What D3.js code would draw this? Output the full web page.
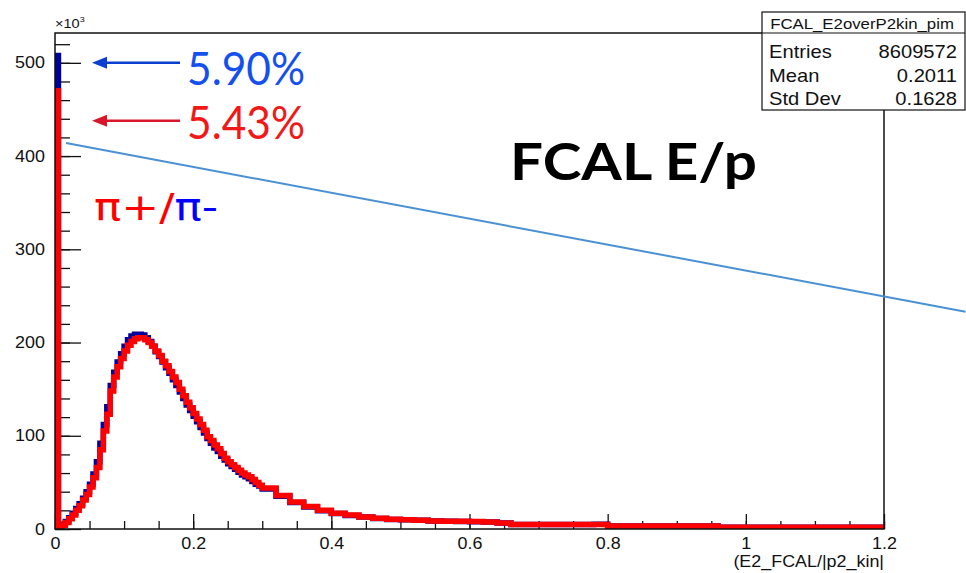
<!DOCTYPE html>
<html>
<head>
<meta charset="utf-8">
<script src="https://cdn.jsdelivr.net/npm/d3@7"></script>
<style>
  body { margin: 0; background: #fff; }
  svg { display: block; }
</style>
</head>
<body>
<div id="chart"></div>
<script>
// counts in units of 10^3, bins of 0.005 up to 0.3 then 0.02 up to 1.2
const lowBinWidth = 0.005;
const tailStart = 0.3;
const tailBinWidth = 0.02;

const piPlusLow = [470, 2, 4, 7, 11, 15, 20, 25, 31, 37,
                   45, 55, 66, 85, 105, 123, 148, 163, 174, 183,
                   191, 197, 201, 204, 205, 205, 203, 200, 196, 191,
                   186, 180, 175, 169, 163, 157, 150, 143, 136, 130,
                   124, 118, 112, 106, 99, 95, 90, 86, 81, 76,
                   72, 69, 66, 63, 60, 58, 56, 53, 50, 47];
const piMinusLow = [508, 3, 5, 8, 12, 17, 22, 27, 33, 40,
                    48, 59, 72, 92, 112, 131, 154, 168, 179, 188,
                    196, 203, 207, 209, 209, 208, 205, 201, 196, 190,
                    185, 179, 173, 167, 160, 154, 147, 140, 133, 127,
                    121, 115, 109, 103, 97, 92, 87, 83, 78, 74,
                    70, 67, 64, 61, 58, 56, 54, 51, 48, 46];
const piPlusTail = [44, 36, 29, 24, 20, 17, 15, 13, 11.5, 10.5,
                    10, 9.5, 8.6, 8.4, 8.2, 8, 7.5, 6.5, 4.8, 4.8,
                    4.8, 4.8, 4.8, 4.8, 4.8, 3.2, 3.2, 3.2, 3.2, 3.2,
                    3.2, 3.2, 3.2, 2, 2, 2, 2, 2, 2, 2,
                    2, 2, 2, 2, 2];
const piMinusTail = [43, 35, 28.5, 23.5, 19.5, 16.5, 14.5, 12.8, 11.3, 10.3,
                     9.8, 9.3, 8.5, 8.3, 8.1, 7.9, 7.4, 6.4, 4.7, 4.7,
                     4.7, 4.7, 4.7, 4.7, 5.2, 3.1, 3.1, 3.1, 3.1, 3.1,
                     3.1, 3.1, 3.1, 1.9, 1.9, 1.9, 1.9, 1.9, 1.9, 1.9,
                     1.9, 1.9, 1.9, 1.9, 1.9];

const yTicks = [0, 100, 200, 300, 400, 500];
const xTicks = [0, 0.2, 0.4, 0.6, 0.8, 1, 1.2];
const statsTitle = "FCAL_E2overP2kin_pim";
const statsRows = [["Entries", "8609572"], ["Mean", "0.2011"], ["Std Dev", "0.1628"]];
const xTitle = "(E2_FCAL/|p2_kin|";
// hand-drawn guide line, in data units
const guideLine = [[0.016, 414], [1.318, 233]];

const width = 966;
const height = 573;
const stretch = "scale(1.12,1)";

const xScale = d3.scaleLinear().domain([0, 1.2]).range([55, 884]);
const yScale = d3.scaleLinear().domain([0, 532]).range([529, 33]);

const svg = d3.select("#chart")
              .append("svg")
              .attr("width", width)
              .attr("height", height)
              .style("font-family", "'Liberation Sans', Arial, sans-serif");

svg.append("rect").attr("width", width).attr("height", height).attr("fill", "#fff");

svg.append("clipPath")
   .attr("id", "frame-clip")
   .append("rect")
   .attr("x", xScale(0))
   .attr("y", yScale(532))
   .attr("width", xScale(1.2) - xScale(0))
   .attr("height", yScale(0) - yScale(532));

const toBins = (low, tail) => [
  ...low.map((v, i) => ({ x0: i * lowBinWidth, x1: (i + 1) * lowBinWidth, v })),
  ...tail.map((v, i) => ({ x0: tailStart + i * tailBinWidth, x1: tailStart + (i + 1) * tailBinWidth, v }))
];

const stepPoints = (bins) => {
  const pts = [[0, 0]];
  bins.forEach(b => { pts.push([b.x0, b.v]); pts.push([b.x1, b.v]); });
  pts.push([1.2, 0]);
  return pts;
};

const line = d3.line().x(d => xScale(d[0])).y(d => yScale(d[1]));

// axes (ROOT style: ticks pointing into the frame)
const yMinor = d3.axisLeft(yScale).tickValues(d3.range(0, 521, 20)).tickSizeInner(-15).tickSizeOuter(0).tickFormat("");
const yMajor = d3.axisLeft(yScale).tickValues(yTicks).tickSizeInner(-26).tickSizeOuter(0).tickPadding(9);
const xMinor = d3.axisBottom(xScale).tickValues(d3.range(0, 1.2001, 0.05)).tickSizeInner(-8).tickSizeOuter(0).tickFormat("");
const xMajor = d3.axisBottom(xScale).tickValues(xTicks).tickSizeInner(-15).tickSizeOuter(0).tickPadding(9).tickFormat(d3.format("~g"));

[yMinor, yMajor].forEach(ax => {
  svg.append("g").attr("class", "axis").attr("transform", `translate(${xScale(0)},0)`).call(ax);
});
[xMinor, xMajor].forEach(ax => {
  svg.append("g").attr("class", "axis").attr("transform", `translate(0,${yScale(0)})`).call(ax);
});

svg.selectAll(".axis .domain").remove();
svg.selectAll(".axis line").attr("stroke", "#111").attr("stroke-width", 1.3);
svg.selectAll(".axis text")
   .attr("fill", "#111")
   .style("font-size", "16px")
   .style("font-family", "'Liberation Sans', Arial, sans-serif")
   .attr("transform", stretch);

// histograms
const hist = svg.append("g").attr("clip-path", "url(#frame-clip)");
hist.append("path")
    .attr("d", line(stepPoints(toBins(piMinusLow, piMinusTail))))
    .attr("fill", "none")
    .attr("stroke", "#00009c")
    .attr("stroke-width", 5.5);
hist.append("path")
    .attr("d", line(stepPoints(toBins(piPlusLow, piPlusTail))))
    .attr("fill", "none")
    .attr("stroke", "#ff0000")
    .attr("stroke-width", 5.5);

// frame
svg.append("rect")
   .attr("x", xScale(0))
   .attr("y", yScale(532))
   .attr("width", xScale(1.2) - xScale(0))
   .attr("height", yScale(0) - yScale(532))
   .attr("fill", "none")
   .attr("stroke", "#111")
   .attr("stroke-width", 1.5);

const rootText = (x, y, str, size, anchor) =>
  svg.append("text")
     .attr("transform", `translate(${x},${y}) ${stretch}`)
     .attr("text-anchor", anchor)
     .attr("fill", "#111")
     .style("font-size", size + "px")
     .text(str);

// exponent label
const expo = rootText(55, 28, "\u00d710", 13, "start");
expo.append("tspan").attr("dy", -6).style("font-size", "8px").text("3");

rootText(884, 567, xTitle, 16, "end");

// stats box
svg.append("rect")
   .attr("x", 762).attr("y", 12).attr("width", 203).attr("height", 98)
   .attr("fill", "#fff").attr("stroke", "#111").attr("stroke-width", 1.2);
svg.append("line")
   .attr("x1", 762).attr("x2", 965).attr("y1", 33).attr("y2", 33)
   .attr("stroke", "#111").attr("stroke-width", 1.2);
rootText(862, 29, statsTitle, 15, "middle");
statsRows.forEach((r, i) => {
  rootText(769, 58 + i * 23.5, r[0], 18, "start");
  rootText(957, 58 + i * 23.5, r[1], 18, "end");
});

// guide line
svg.append("line")
   .attr("x1", xScale(guideLine[0][0])).attr("y1", yScale(guideLine[0][1]))
   .attr("x2", xScale(guideLine[1][0])).attr("y2", yScale(guideLine[1][1]))
   .attr("stroke", "#4a90d4")
   .attr("stroke-width", 2);

// annotations
const arrow = (yVal, color) => {
  const y = yScale(yVal);
  svg.append("line")
     .attr("x1", 180).attr("x2", 104).attr("y1", y).attr("y2", y)
     .attr("stroke", color).attr("stroke-width", 2.5);
  svg.append("path")
     .attr("d", `M92,${y} L107,${y - 6} L107,${y + 6} Z`)
     .attr("fill", color);
};
arrow(500, "#0b3fcf");
arrow(438, "#d8182a");

const big = (x, y, str, color, len) =>
  svg.append("text")
     .attr("x", x).attr("y", y)
     .attr("fill", color)
     .attr("textLength", len)
     .attr("lengthAdjust", "spacingAndGlyphs")
     .style("font-family", "Lato, 'DejaVu Sans', sans-serif")
     .style("font-size", "47px")
     .text(str);
big(187, 85, "5.90%", "#1550ee", 118);
big(187, 139, "5.43%", "#f21818", 118);

const pions = svg.append("text")
   .attr("x", 94).attr("y", 220)
   .attr("textLength", 124)
   .attr("lengthAdjust", "spacingAndGlyphs")
   .style("font-family", "'DejaVu Sans', sans-serif")
   .style("font-size", "37px");
pions.append("tspan").attr("fill", "#ff0000").text("\u03c0+/");
pions.append("tspan").attr("fill", "#0000ff").text("\u03c0-");

svg.append("text")
   .attr("x", 510).attr("y", 180)
   .attr("textLength", 247)
   .attr("lengthAdjust", "spacingAndGlyphs")
   .attr("fill", "#000")
   .style("font-family", "Lato, sans-serif")
   .style("font-weight", "bold")
   .style("font-size", "51px")
   .text("FCAL E/p");
</script>
</body>
</html>
